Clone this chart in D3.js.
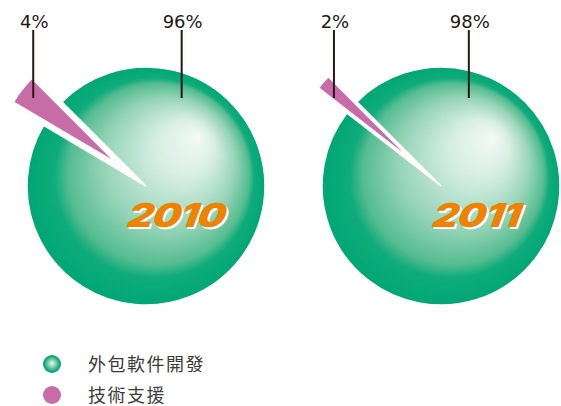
<!DOCTYPE html>
<html>
<head>
<meta charset="utf-8">
<script src="https://cdn.jsdelivr.net/npm/d3@7"></script>
<style>
  html, body { margin: 0; padding: 0; background: #fff; }
  svg { display: block; }
</style>
</head>
<body>
<svg id="chart" width="561" height="406"></svg>
<script>
// Share of revenue by service line, per year
const years = ["2010", "2011"];
const categories = ["外包軟件開發", "技術支援"];
const shares2010 = [96, 4];
const shares2011 = [98, 2];
const pctLabels2010 = ["96%", "4%"];
const pctLabels2011 = ["98%", "2%"];

const W = 561, H = 406;
const svg = d3.select("#chart");
const defs = svg.append("defs");

const PINK = "#c86ca8";
const INK = "#231815";

// glossy sphere fill for the main slice
const sphere = defs.append("radialGradient")
  .attr("id", "sphere")
  .attr("cx", 0.5).attr("cy", 0.5).attr("r", 0.5)
  .attr("fx", 0.72).attr("fy", 0.29);
[[0, "#f4faf7"], [0.25, "#d6eee2"], [0.55, "#96d4b8"], [0.76, "#55bc91"], [0.84, "#0fab7b"], [1, "#00a774"]]
  .forEach(([o, c]) => sphere.append("stop").attr("offset", o).attr("stop-color", c));

const dot = defs.append("radialGradient")
  .attr("id", "dot")
  .attr("cx", 0.5).attr("cy", 0.5).attr("r", 0.5)
  .attr("fx", 0.5).attr("fy", 0.45);
[[0, "#eef8f3"], [0.45, "#7fcca9"], [0.8, "#12ac7e"], [1, "#00a774"]]
  .forEach(([o, c]) => dot.append("stop").attr("offset", o).attr("stop-color", c));

const R = 119;
const explode = 38;
const deg = Math.PI / 180;

const pie = d3.pie().sort(null).startAngle(-45 * deg).endAngle(315 * deg);
const arc = d3.arc().innerRadius(0).outerRadius(R);

const charts = [
  { year: years[0], values: shares2010, labels: pctLabels2010, cx: 146, cy: 186, mainLabelAngle: 22 },
  { year: years[1], values: shares2011, labels: pctLabels2011, cx: 441, cy: 186, mainLabelAngle: 17 }
];

const fills = [ "url(#sphere)", PINK ];
const lineTop = 30, lineBottom = 98, labelBase = 28;

charts.forEach(ch => {
  const g = svg.append("g").attr("transform", `translate(${ch.cx},${ch.cy})`);
  const arcs = pie(ch.values);

  arcs.forEach((a, i) => {
    const mid = (a.startAngle + a.endAngle) / 2;
    const off = i === 1 ? explode : 0;
    const ox = Math.sin(mid) * off, oy = -Math.cos(mid) * off;
    g.append("path")
      .attr("d", arc(a))
      .attr("transform", `translate(${ox},${oy})`)
      .attr("fill", fills[i])
      .attr("stroke", "#fff")
      .attr("stroke-width", 1.5)
      .attr("stroke-linejoin", "miter");

    // leader line anchor inside the slice
    let ax;
    if (i === 1) {
      ax = ox + Math.sin(mid) * R * 0.88;
    } else {
      ax = Math.sin(ch.mainLabelAngle * deg) * R * 0.8;
    }
    g.append("line")
      .attr("x1", ax).attr("x2", ax)
      .attr("y1", lineTop - ch.cy).attr("y2", lineBottom - ch.cy)
      .attr("stroke", INK).attr("stroke-width", 2);
    g.append("text")
      .attr("x", ax + 1).attr("y", labelBase - ch.cy)
      .attr("text-anchor", "middle")
      .attr("font-family", "'DejaVu Sans', sans-serif")
      .attr("font-size", 18)
      .attr("fill", INK)
      .text(ch.labels[i]);
  });

  // year badge: white offset copy under orange italic numerals
  const yr = g.append("g").attr("transform", `translate(76,41) skewX(-20) scale(1.2,1)`);
  [["#ffffff", 2, 2], ["#ef8200", 0, 0]].forEach(([c, dx, dy]) => {
    yr.append("text")
      .attr("x", dx).attr("y", dy)
      .attr("text-anchor", "end")
      .attr("font-family", "Inter, 'DejaVu Sans', sans-serif")
      .attr("font-weight", 900)
      .attr("font-size", 33)
      .attr("letter-spacing", -0.5)
      .attr("fill", c)
      .text(ch.year);
  });
});

// legend
const legend = svg.append("g");
const legendFills = ["url(#dot)", PINK];
categories.forEach((c, i) => {
  const y = 364 + i * 31;
  legend.append("circle").attr("cx", 52).attr("cy", y).attr("r", 9).attr("fill", legendFills[i]);
  legend.append("text")
    .attr("x", 88).attr("y", y + 6.5)
    .attr("font-family", "'Noto Sans CJK TC', 'Noto Sans CJK SC', sans-serif")
    .attr("font-size", 18)
    .attr("letter-spacing", 1.5)
    .attr("fill", "#3e3a39")
    .text(c);
});
</script>
</body>
</html>
